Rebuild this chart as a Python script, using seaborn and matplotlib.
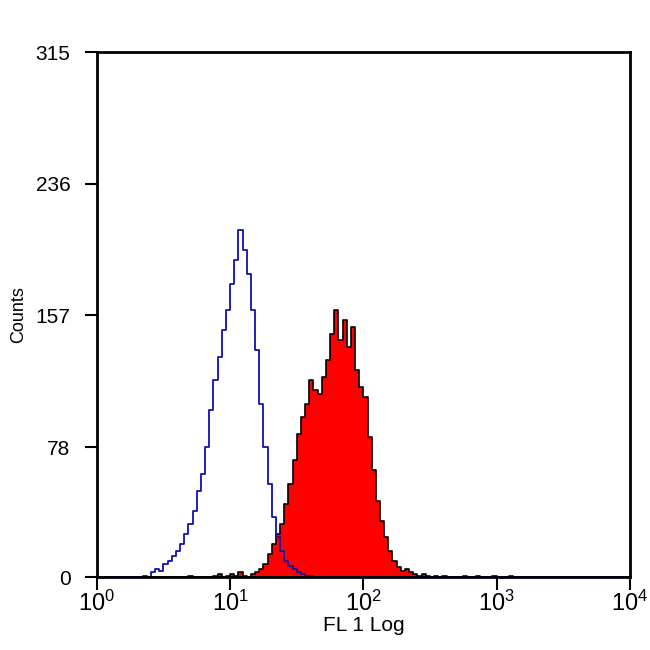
import numpy as np
import pandas as pd
import seaborn as sns
from matplotlib import pyplot as plt

# channel width in log10 units (128 channels over 4 decades)
chan_w = 4 / 128

# isotype control (blue outline), first channel = 11
blue_start = 11
blue_counts = [1, 0, 3, 5, 4, 8, 10, 13, 16, 20, 26, 32, 40, 52, 62, 78, 100, 118,
               132, 148, 160, 176, 190, 208, 196, 182, 160, 136, 104, 78, 56, 36,
               24, 16, 10, 7, 5, 3, 2, 1, 1, 0]

# stained sample (red filled), first channel = 22
red_start = 22
red_counts = [1, 0, 0, 0, 0, 0, 1, 2, 0, 1, 2, 1, 3, 1, 0, 2, 3, 5, 8, 14, 20, 26,
              32, 44, 56, 70, 86, 96, 104, 118, 112, 110, 120, 130, 146, 160, 142,
              154, 138, 150, 124, 114, 108, 84, 64, 46, 34, 24, 16, 10, 6, 4, 5, 3,
              2, 1, 2, 1, 0, 1, 0, 1, 0, 0, 0, 0, 1, 0, 0, 1, 0, 0, 0, 1, 0, 0, 0,
              1, 0]

y_ticks = [0, 78, 157, 236, 315]
x_decades = [0, 1, 2, 3, 4]

blue_df = pd.DataFrame({
    "fl1": (np.arange(len(blue_counts)) + blue_start + 0.5) * chan_w,
    "n": blue_counts,
})
red_df = pd.DataFrame({
    "fl1": (np.arange(len(red_counts)) + red_start + 0.5) * chan_w,
    "n": red_counts,
})

sns.set_style("white")
plt.rcParams['font.family'] = ['Liberation Sans', 'DejaVu Sans']
plt.rcParams['mathtext.fontset'] = 'custom'
plt.rcParams['mathtext.rm'] = 'Liberation Sans'

fig = plt.figure(figsize=(6.5, 6.5), dpi=100)
ax = fig.add_axes([0.149, 0.112, 0.82, 0.808])

sns.histplot(data=red_df, x="fl1", weights="n", binwidth=chan_w, binrange=(0, 4),
             element="step", fill=True, color="#ff0000", alpha=1,
             edgecolor="black", linewidth=1.2, ax=ax)
sns.histplot(data=blue_df, x="fl1", weights="n", binwidth=chan_w, binrange=(0, 4),
             element="step", fill=False, color="#1010b0", linewidth=1.3, ax=ax)

ax.set_xlim(0, 4)
ax.set_ylim(0, 315)
ax.set_yticks(y_ticks)
ax.set_yticklabels([str(v) for v in y_ticks], fontsize=15)
ax.set_xticks(x_decades)
ax.set_xticklabels([r'$\mathregular{10^{%d}}$' % d for d in x_decades], fontsize=17)
ax.tick_params(axis='both', direction='out', length=9, width=1.5, colors='black',
               left=True, bottom=True)
ax.tick_params(axis='y', pad=10)
ax.tick_params(axis='x', pad=1)
for s in ax.spines.values():
    s.set_color('black')
    s.set_linewidth(2)

ax.set_xlabel("FL 1 Log", fontsize=15, labelpad=0, color='black')
ax.set_ylabel("Counts", fontsize=13, labelpad=6, color='black')

fig.savefig("out.png", dpi=100)
